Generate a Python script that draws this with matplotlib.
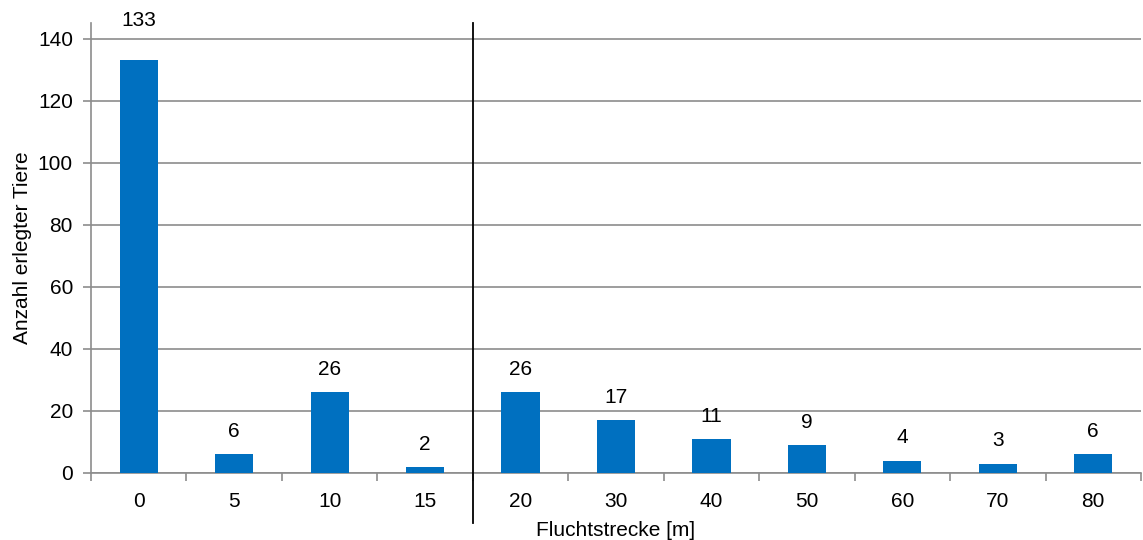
import numpy as np
import matplotlib.pyplot as plt

plt.rcParams['font.family'] = ['Liberation Sans', 'DejaVu Sans']

# Fluchtstrecke categories and counts
distances = ['0', '5', '10', '15', '20', '30', '40', '50', '60', '70', '80']
counts = [133, 6, 26, 2, 26, 17, 11, 9, 4, 3, 6]

BAR_COLOR = '#0070C0'
GRID_COLOR = '#8C8C8C'
FS = 15

fig = plt.figure(figsize=(11.43, 5.4), dpi=100)
ax = fig.add_axes([91 / 1143, 67 / 540, 1050 / 1143, 450 / 540])

x = np.arange(len(distances))
ax.bar(x, counts, width=0.4, color=BAR_COLOR, zorder=3)

for xi, c in zip(x, counts):
    off = 22 if c > 100 else 9.5
    ax.annotate(str(c), (xi, c), xytext=(0, off), textcoords='offset points',
                ha='center', va='bottom', fontsize=FS)

ax.set_xlim(-0.5, len(distances) - 0.5)
ax.set_ylim(0, 145)
ax.set_yticks(np.arange(0, 141, 20))
ax.yaxis.grid(True, color=GRID_COLOR, linewidth=1.2, zorder=0)
ax.set_axisbelow(True)

# tick marks between categories, labels centred under bars
ax.set_xticks(np.arange(-0.5, len(distances), 1.0))
ax.set_xticklabels([])
ax.set_xticks(x, minor=True)
ax.set_xticklabels(distances, minor=True)
ax.tick_params(axis='x', which='major', length=6, width=1.2, color=GRID_COLOR, direction='out')
ax.tick_params(axis='x', which='minor', length=0, pad=14, labelsize=FS)
ax.tick_params(axis='y', length=6, width=1.2, color=GRID_COLOR, labelsize=FS, pad=7)

for side in ['top', 'right']:
    ax.spines[side].set_visible(False)
for side in ['left', 'bottom']:
    ax.spines[side].set_color(GRID_COLOR)
    ax.spines[side].set_linewidth(1.2)

# separator between the 5 m steps and the 10 m steps
ax.axvline(3.5, ymin=-0.11, ymax=1.0, color='black', linewidth=1.3, clip_on=False, zorder=4)

ax.set_xlabel('Fluchtstrecke [m]', fontsize=FS, labelpad=7)
ax.set_ylabel('Anzahl erlegter Tiere', fontsize=FS, labelpad=4)

fig.savefig('out.png', dpi=100)
